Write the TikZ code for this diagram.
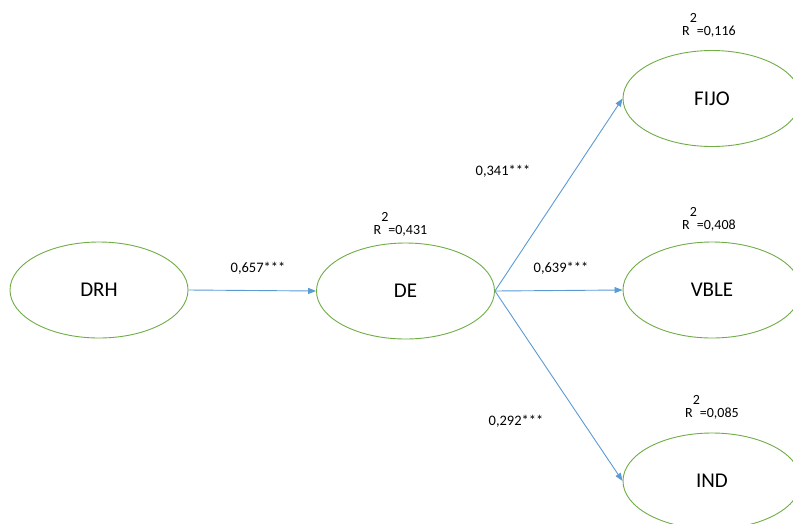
\documentclass[tikz,border=0pt]{standalone}
\usepackage{fontspec}
\setmainfont{Carlito}
\usetikzlibrary{shapes.geometric,arrows.meta}
\definecolor{lineblue}{HTML}{5B9BD5}
\definecolor{ovalgreen}{HTML}{70AD47}
\tikzset{
  construct/.style={ellipse, draw=ovalgreen, line width=0.9pt, minimum width=178pt, minimum height=96pt, inner sep=0pt, font=\fontsize{21pt}{24pt}\selectfont},
  path/.style={draw=lineblue, line width=0.9pt, -{Triangle[length=8pt,width=6pt]}},
  coef/.style={inner sep=0pt, font=\fontsize{14.5pt}{17pt}\selectfont},
  rsq/.style={inner sep=0pt, anchor=base west, font=\fontsize{14pt}{17pt}\selectfont}
}
\newcommand{\rsqtext}[1]{R\raisebox{13pt}{2}#1}
\begin{document}
\begin{tikzpicture}[x=1pt,y=-1pt]
\useasboundingbox (0,0) rectangle (793,523);
\clip (0,0) rectangle (793,523);
\fill[white] (0,0) rectangle (793,523);
\node[construct] (drh) at (99,290) {DRH};
\node[construct] (de) at (405.5,291) {DE};
\node[construct] (fijo) at (712,98.5) {FIJO};
\node[construct] (vble) at (712,290) {VBLE};
\node[construct] (ind) at (712,481) {IND};
\draw[path] (drh.east) -- (de.west);
\draw[path] (de.east) -- (fijo.west);
\draw[path] (de.east) -- (vble.west);
\draw[path] (de.east) -- (ind.west);
\node[coef] (c1) at (258,268) {0,657***};
\node[coef] (c2) at (503,171) {0,341***};
\node[coef] (c3) at (561,268) {0,639***};
\node[coef] (c4) at (516,421) {0,292***};
\node[rsq] (r1) at (373.5,234) {\rsqtext{=0,431}};
\node[rsq] (r2) at (682,35) {\rsqtext{=0,116}};
\node[rsq] (r3) at (682,229) {\rsqtext{=0,408}};
\node[rsq] (r4) at (685,417) {\rsqtext{=0,085}};
\end{tikzpicture}
\end{document}
